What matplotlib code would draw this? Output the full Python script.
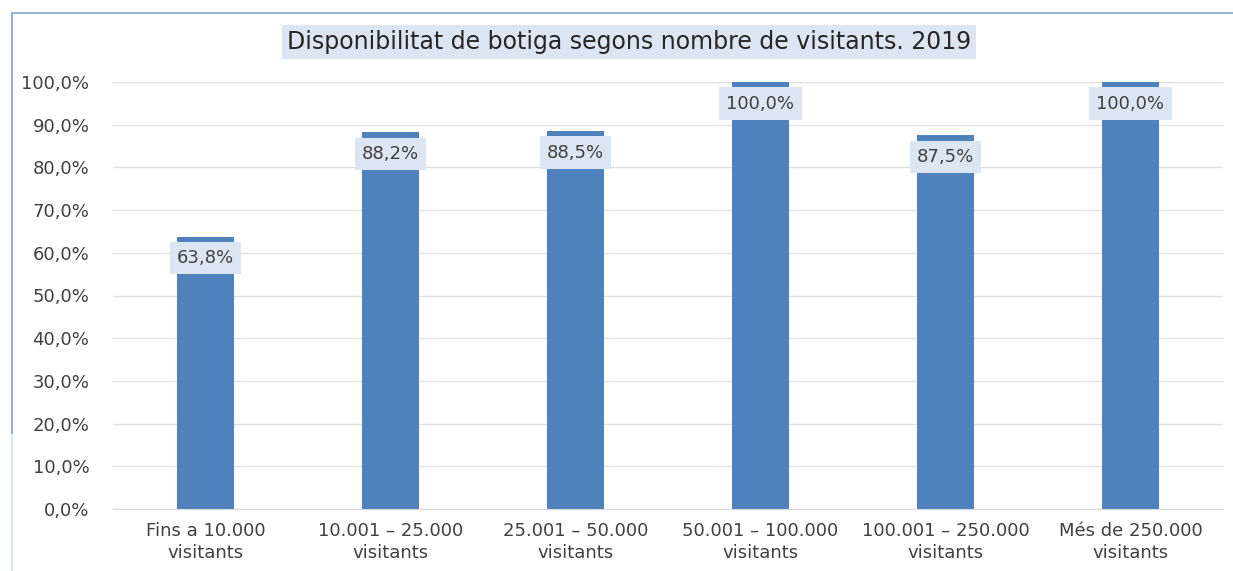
import matplotlib
matplotlib.use("Agg")
import matplotlib.pyplot as plt
from matplotlib.lines import Line2D

categories = ["Fins a 10.000\nvisitants", "10.001 \u2013 25.000\nvisitants", "25.001 \u2013 50.000\nvisitants",
              "50.001 \u2013 100.000\nvisitants", "100.001 \u2013 250.000\nvisitants", "Més de 250.000\nvisitants"]
values = [63.8, 88.2, 88.5, 100.0, 87.5, 100.0]
yticks = [0, 10, 20, 30, 40, 50, 60, 70, 80, 90, 100]
title = "Disponibilitat de botiga segons nombre de visitants. 2019"

fig = plt.figure(figsize=(12.33, 5.71), dpi=100)
ax = fig.add_axes([113/1233, 1-509/571, 1110/1233, 427/571])

x = list(range(len(categories)))
ax.bar(x, values, width=0.31, color="#4f81bd", zorder=3)
ax.set_xlim(-0.5, len(categories) - 0.5)
ax.set_ylim(0, 100)
ax.set_yticks(yticks)
ax.set_yticklabels([f"{v:.1f}%".replace(".", ",") for v in yticks])
ax.set_xticks(x)
ax.set_xticklabels(categories, linespacing=1.35)
ax.tick_params(axis="both", length=0, labelsize=13, colors="#404040")
ax.tick_params(axis="y", pad=17)
ax.tick_params(axis="x", pad=9)
ax.grid(axis="y", color="#e0e0e0", linewidth=1, zorder=0)
for s in ["left", "right", "top"]:
    ax.spines[s].set_visible(False)
ax.spines["bottom"].set_color("#d9d9d9")
ax.spines["bottom"].set_zorder(4)

for xi, v in zip(x, values):
    ax.annotate(f"{v:.1f}%".replace(".", ","), (xi, v), xytext=(0, -15.5), textcoords="offset points",
                ha="center", va="center", fontsize=13, color="#404040", zorder=5,
                bbox=dict(boxstyle="square,pad=0.4", fc="#dce6f2", ec="none"))

fig.text(629/1233, 1-42/571, title, ha="center", va="center", fontsize=17, color="#262626",
         bbox=dict(boxstyle="square,pad=0.2", fc="#dce6f2", ec="none"))

# figure border lines
fig.add_artist(Line2D([12/1233, 1], [1-13/571, 1-13/571], color="#95b3d7", linewidth=1.5, transform=fig.transFigure))
fig.add_artist(Line2D([12/1233, 12/1233], [1-13/571, 1-435/571], color="#95b3d7", linewidth=1.5, transform=fig.transFigure))
fig.add_artist(Line2D([12/1233, 12/1233], [1-435/571, 0], color="#dce6f2", linewidth=1.5, transform=fig.transFigure))

fig.savefig("out.png", dpi=100)
